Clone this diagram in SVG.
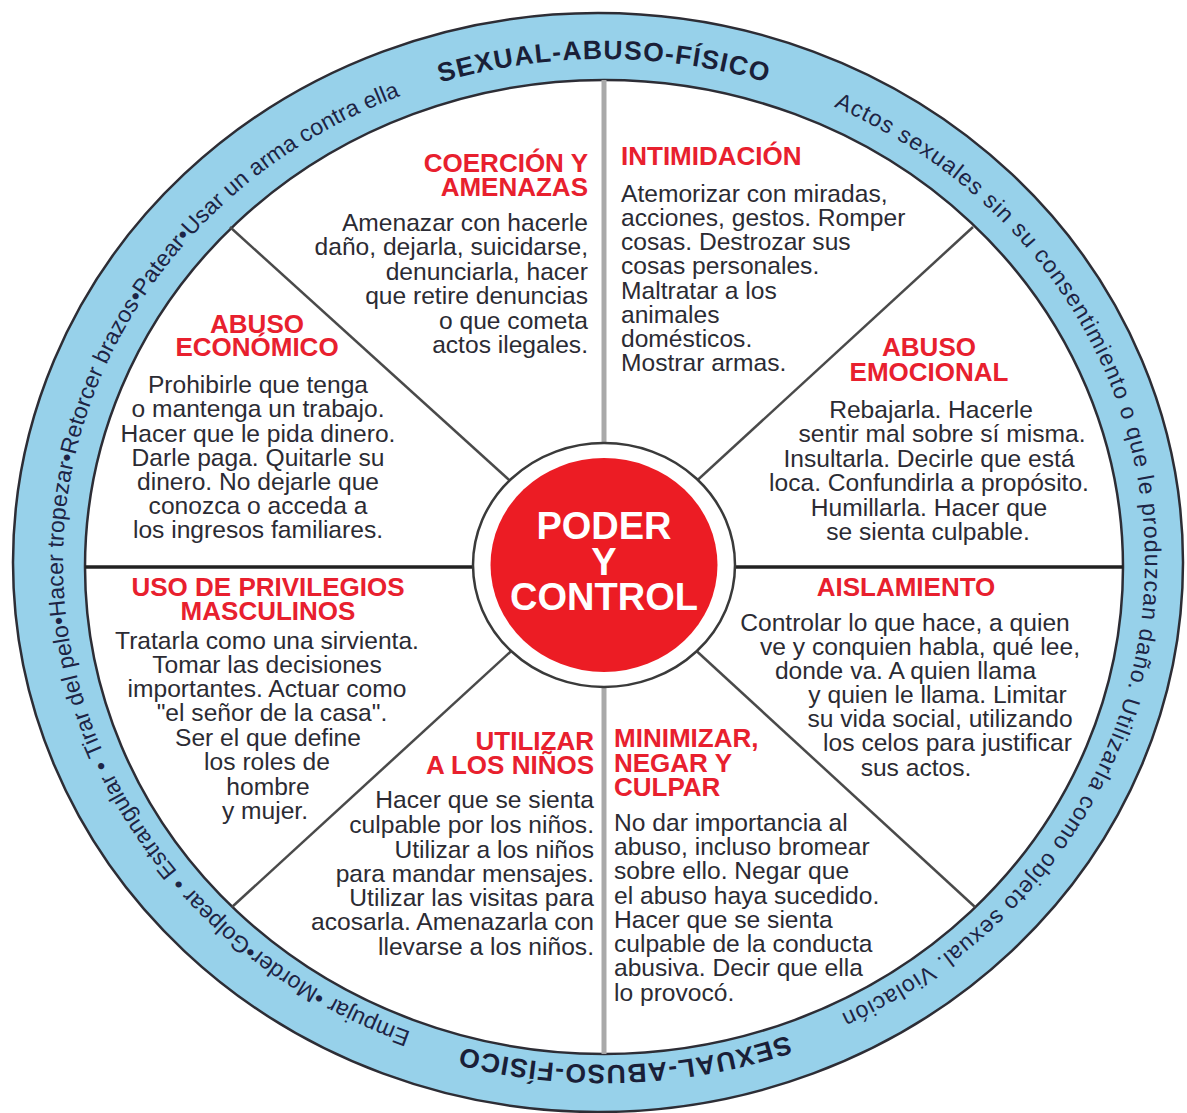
<svg xmlns="http://www.w3.org/2000/svg" width="1187" height="1113" viewBox="0 0 1187 1113">
<style>
.body{font-family:"Liberation Sans",Arial,sans-serif;font-size:24.6px;fill:#2b2b33}
.title{font-family:"Liberation Sans",Arial,sans-serif;font-size:26px;font-weight:bold;fill:#e8202e}
.ring{font-family:"Liberation Sans",Arial,sans-serif;font-size:23px;fill:#1d2445}
.ringb{font-family:"Liberation Sans",Arial,sans-serif;font-size:26.5px;font-weight:bold;fill:#1a1f38;letter-spacing:1.2px}
.center{font-family:"Liberation Sans",Arial,sans-serif;font-size:38px;font-weight:bold;fill:#fff;text-anchor:middle}
.e{text-anchor:end}
.m{text-anchor:middle}
.diag{stroke:#4a4a4a;stroke-width:2.5}
.hor{stroke:#222;stroke-width:3.5}
.ver{stroke:#a9a9a9;stroke-width:5}
</style>
<defs>
<path id="pA" d="M 63 562 A 541 503 0 1 1 1145 562 A 541 503 0 1 1 63 562"/>
<path id="pB" d="M 604 1065 A 541 503 0 0 1 63 562 A 541 503 0 0 1 604 59 A 541 503 0 0 1 1145 562 A 541 503 0 0 1 604 1065"/>
</defs>
<rect width="1187" height="1113" fill="#fff"/>
<g id="ring">
<ellipse cx="598" cy="562.5" rx="585" ry="549.5" fill="#97d1ea" stroke="#2d2d35" stroke-width="2.5"/>
<ellipse cx="604" cy="567" rx="519" ry="487" fill="#fff" stroke="#2d2d35" stroke-width="2.5"/>
<text class="ringb"><textPath href="#pA" startOffset="25%" text-anchor="middle">SEXUAL-ABUSO-FÍSICO</textPath></text>
<text class="ringb"><textPath href="#pA" startOffset="74.36%" text-anchor="middle">SEXUAL-ABUSO-FÍSICO</textPath></text>
<text class="ring" letter-spacing="1.05"><textPath href="#pA" startOffset="32.2%">Actos sexuales sin su consentimiento o que le produzcan daño. Utilizarla como objeto sexual. Violación</textPath></text>
<text class="ring" letter-spacing="0.1"><textPath href="#pB" startOffset="6%">Empujar •Morder•Golpear • Estrangular • Tirar del pelo•Hacer tropezar•Retorcer brazos•Patear•Usar un arma contra ella</textPath></text>
</g>
<g id="connectors">
<line class="ver" x1="604" y1="80" x2="604" y2="566"/>
<line class="ver" x1="604" y1="566" x2="604" y2="1054"/>
<line class="hor" x1="85" y1="567" x2="604" y2="567"/>
<line class="hor" x1="604" y1="567" x2="1123" y2="567"/>
<line class="diag" x1="230" y1="227" x2="604" y2="566"/>
<line class="diag" x1="973" y1="227" x2="604" y2="566"/>
<line class="diag" x1="232" y1="907" x2="604" y2="566"/>
<line class="diag" x1="975" y1="907" x2="604" y2="566"/>
</g>
<g id="center">
<ellipse cx="604" cy="565" rx="131" ry="122" fill="#fff" stroke="#3a3a3a" stroke-width="2.5"/>
<ellipse cx="604" cy="565" rx="113.5" ry="107" fill="#ec1c24"/>
<text class="center" x="604" y="539">PODER</text>
<text class="center" x="604" y="575">Y</text>
<text class="center" x="604" y="610">CONTROL</text>
</g>
<g id="coercion">
<text class="title e" x="588" y="172">COERCIÓN Y</text>
<text class="title e" x="588" y="196">AMENAZAS</text>
<text class="body e" x="588" y="231">Amenazar con hacerle</text>
<text class="body e" x="588" y="255">daño, dejarla, suicidarse,</text>
<text class="body e" x="588" y="280">denunciarla, hacer</text>
<text class="body e" x="588" y="304">que retire denuncias</text>
<text class="body e" x="588" y="329">o que cometa</text>
<text class="body e" x="588" y="353">actos ilegales.</text>
</g>
<g id="intimidacion">
<text class="title" x="621" y="165">INTIMIDACIÓN</text>
<text class="body" x="621" y="202">Atemorizar con miradas,</text>
<text class="body" x="621" y="226">acciones, gestos. Romper</text>
<text class="body" x="621" y="250">cosas. Destrozar sus</text>
<text class="body" x="621" y="274">cosas personales.</text>
<text class="body" x="621" y="299">Maltratar a los</text>
<text class="body" x="621" y="323">animales</text>
<text class="body" x="621" y="347">domésticos.</text>
<text class="body" x="621" y="371">Mostrar armas.</text>
</g>
<g id="emocional">
<text class="title m" x="929" y="356">ABUSO</text>
<text class="title m" x="929" y="381">EMOCIONAL</text>
<text class="body m" x="931" y="418">Rebajarla. Hacerle</text>
<text class="body m" x="942" y="442">sentir mal sobre sí misma.</text>
<text class="body m" x="929" y="467">Insultarla. Decirle que está</text>
<text class="body m" x="929" y="491">loca. Confundirla a propósito.</text>
<text class="body m" x="929" y="516">Humillarla. Hacer que</text>
<text class="body m" x="928" y="540">se sienta culpable.</text>
</g>
<g id="aislamiento">
<text class="title m" x="906" y="596">AISLAMIENTO</text>
<text class="body m" x="905" y="631">Controlar lo que hace, a quien</text>
<text class="body m" x="920" y="655">ve y conquien habla, qué lee,</text>
<text class="body m" x="905.5" y="679">donde va. A quien llama</text>
<text class="body m" x="937.5" y="703">y quien le llama. Limitar</text>
<text class="body m" x="940" y="727">su vida social, utilizando</text>
<text class="body m" x="947.5" y="751">los celos para justificar</text>
<text class="body m" x="916" y="776">sus actos.</text>
</g>
<g id="minimizar">
<text class="title" x="614" y="747">MINIMIZAR,</text>
<text class="title" x="614" y="772">NEGAR Y</text>
<text class="title" x="614" y="796">CULPAR</text>
<text class="body" x="614" y="831">No dar importancia al</text>
<text class="body" x="614" y="855">abuso, incluso bromear</text>
<text class="body" x="614" y="879">sobre ello. Negar que</text>
<text class="body" x="614" y="904">el abuso haya sucedido.</text>
<text class="body" x="614" y="928">Hacer que se sienta</text>
<text class="body" x="614" y="952">culpable de la conducta</text>
<text class="body" x="614" y="976">abusiva. Decir que ella</text>
<text class="body" x="614" y="1001">lo provocó.</text>
</g>
<g id="ninos">
<text class="title e" x="594" y="750">UTILIZAR</text>
<text class="title e" x="594" y="774">A LOS NIÑOS</text>
<text class="body e" x="594" y="808">Hacer que se sienta</text>
<text class="body e" x="594" y="833">culpable por los niños.</text>
<text class="body e" x="594" y="858">Utilizar a los niños</text>
<text class="body e" x="594" y="882">para mandar mensajes.</text>
<text class="body e" x="594" y="906">Utilizar las visitas para</text>
<text class="body e" x="594" y="930">acosarla. Amenazarla con</text>
<text class="body e" x="594" y="955">llevarse a los niños.</text>
</g>
<g id="privilegios">
<text class="title m" x="268" y="596">USO DE PRIVILEGIOS</text>
<text class="title m" x="268" y="620">MASCULINOS</text>
<text class="body m" x="267" y="649">Tratarla como una sirvienta.</text>
<text class="body m" x="267" y="673">Tomar las decisiones</text>
<text class="body m" x="267" y="697">importantes. Actuar como</text>
<text class="body m" x="272" y="721">"el señor de la casa".</text>
<text class="body m" x="268" y="746">Ser el que define</text>
<text class="body m" x="267" y="770">los roles de</text>
<text class="body m" x="268" y="795">hombre</text>
<text class="body m" x="265" y="819">y mujer.</text>
</g>
<g id="economico">
<text class="title m" x="257" y="333">ABUSO</text>
<text class="title m" x="257" y="356">ECONÓMICO</text>
<text class="body m" x="258" y="393">Prohibirle que tenga</text>
<text class="body m" x="258" y="417">o mantenga un trabajo.</text>
<text class="body m" x="258" y="442">Hacer que le pida dinero.</text>
<text class="body m" x="258" y="466">Darle paga. Quitarle su</text>
<text class="body m" x="258" y="490">dinero. No dejarle que</text>
<text class="body m" x="258" y="514">conozca o acceda a</text>
<text class="body m" x="258" y="538">los ingresos familiares.</text>
</g>
</svg>
